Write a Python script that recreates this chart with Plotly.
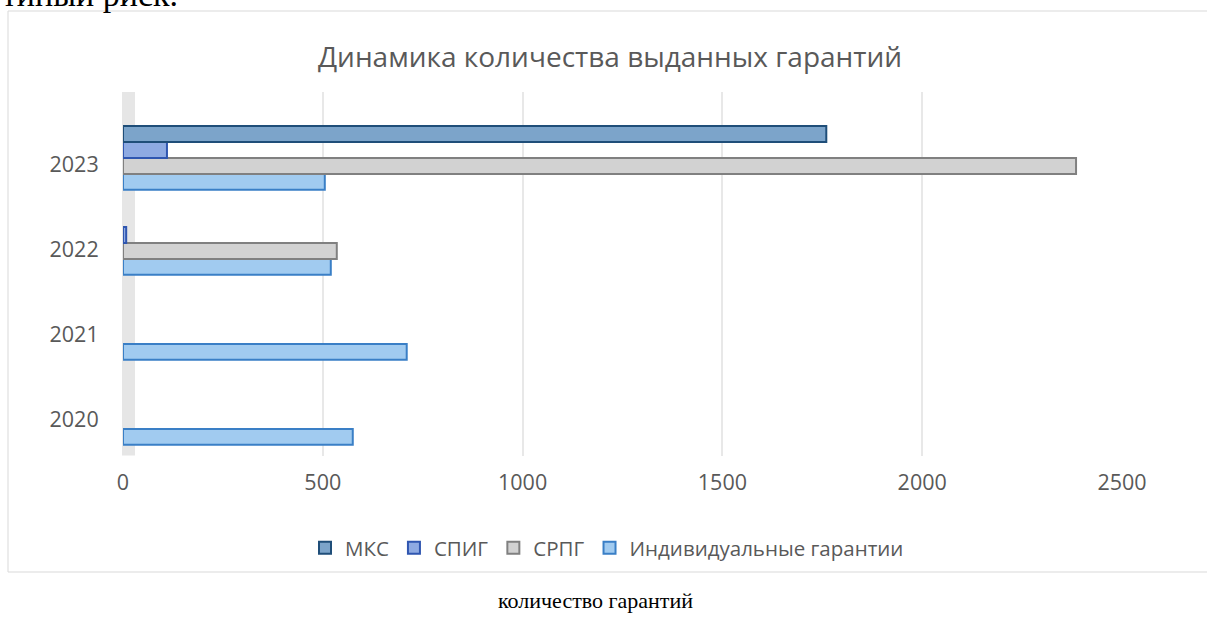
"""
Динамика количества выданных гарантий (горизонтальные столбцы).
"""

import plotly.graph_objects as go

years = ["2020", "2021", "2022", "2023"]

# Значения по сериям (None - нет данных)
mks = [None, None, None, 1760]
spig = [None, None, 8, 110]
srpg = [None, None, 535, 2385]
individual = [575, 710, 520, 505]

W, H = 1207, 622

def px_x(p):
    return p / W

def px_y(p):
    return 1 - p / H

fig = go.Figure()

# Порядок снизу вверх: Индивидуальные, СРПГ, СПИГ, МКС
fig.add_trace(go.Bar(
    y=years, x=individual, name='Индивидуальные гарантии', orientation='h',
    marker=dict(color='#a1cbf0', line=dict(color='#3a7fc6', width=2))
))
fig.add_trace(go.Bar(
    y=years, x=srpg, name='СРПГ', orientation='h',
    marker=dict(color='#d2d2d2', line=dict(color='#808080', width=2))
))
fig.add_trace(go.Bar(
    y=years, x=spig, name='СПИГ', orientation='h',
    marker=dict(color='#8eaae2', line=dict(color='#2f56b0', width=2))
))
fig.add_trace(go.Bar(
    y=years, x=mks, name='МКС', orientation='h',
    marker=dict(color='#7ca4ca', line=dict(color='#1f4e79', width=2))
))

x_dom = [px_x(123), px_x(1122)]
y_dom = [px_y(455.5), px_y(92)]

shapes = [
    # рамка диаграммы (правый край уходит за кадр)
    dict(type='rect', xref='paper', yref='paper',
         x0=px_x(8), x1=px_x(1215), y0=px_y(572), y1=px_y(11),
         line=dict(color='#d9d9d9', width=1), fillcolor='rgba(0,0,0,0)', layer='below'),
    # боковая стенка
    dict(type='rect', xref='x domain', yref='paper',
         x0=-0.001, x1=0.012, y0=y_dom[0], y1=y_dom[1],
         line=dict(width=0), fillcolor='#e6e6e6', layer='below'),
]

fig.update_layout(
    width=W, height=H, autosize=False,
    margin=dict(l=0, r=0, t=0, b=0, autoexpand=False),
    paper_bgcolor='white',
    plot_bgcolor='rgba(0,0,0,0)',
    font=dict(family='Open Sans', color='#595959'),
    barmode='group',
    bargap=0.25,
    bargroupgap=0,
    title=dict(text='Динамика количества выданных гарантий',
               x=px_x(610), y=px_y(57), xanchor='center', yanchor='middle',
               font=dict(size=28, color='#595959')),
    xaxis=dict(domain=x_dom, range=[0, 2500], dtick=500, automargin=False,
               showgrid=True, gridcolor='#e8e8e8', gridwidth=1.5,
               zeroline=False, showline=False,
               tickfont=dict(size=21.5, color='#595959'),
               ticks='outside', ticklen=0, ticklabelstandoff=8),
    yaxis=dict(domain=y_dom, type='category', categoryorder='array',
               categoryarray=years, range=[-0.5, 3.776], automargin=False,
               showgrid=False, zeroline=False, showline=False,
               tickfont=dict(size=21.5, color='#595959'),
               ticks='outside', ticklen=0, ticklabelstandoff=19,
               ticklabelshift=6),
    legend=dict(orientation='h', traceorder='reversed',
                x=px_x(305), xanchor='left', y=px_y(548), yanchor='middle',
                font=dict(size=20.5, color='#595959'),
                bgcolor='rgba(0,0,0,0)'),
    shapes=shapes,
)

# текст документа вокруг диаграммы
fig.add_annotation(text='тиный риск.', xref='paper', yref='paper',
                   x=0, y=px_y(15), xanchor='left', yanchor='bottom',
                   showarrow=False,
                   font=dict(family='Liberation Serif', size=34, color='black'))
fig.add_annotation(text='количество гарантий', xref='paper', yref='paper',
                   x=px_x(595), y=px_y(600), xanchor='center', yanchor='middle',
                   showarrow=False,
                   font=dict(family='Liberation Serif', size=22, color='black'))

# убрать отступы страницы, чтобы рисунок занимал окно целиком
post = ("document.body.style.margin='0';"
        "document.body.style.overflow='hidden';")

fig.write_html("out.html", post_script=post,
               config={'displayModeBar': False})
